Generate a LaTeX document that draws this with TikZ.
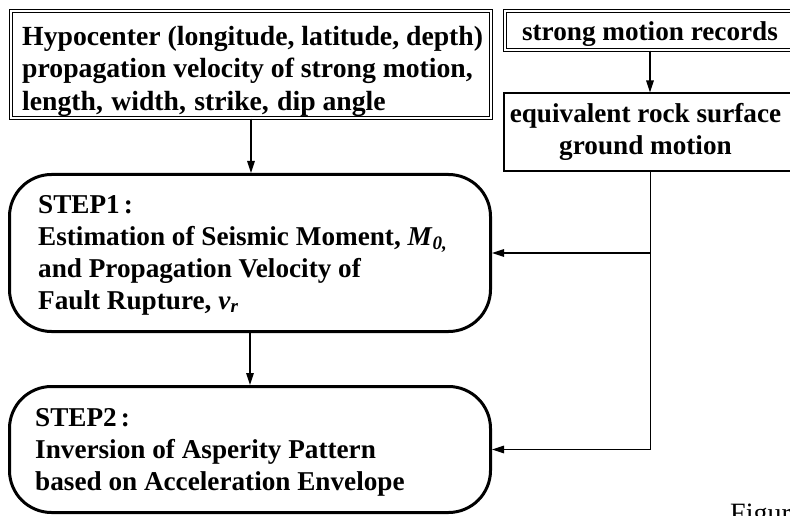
\documentclass[tikz,border=0pt]{standalone}
\usepackage{fontspec}
\setmainfont{Liberation Serif}
\usetikzlibrary{arrows.meta}
\begin{document}
\begin{tikzpicture}[x=1pt,y=-1pt,
  txt/.style={font=\fontsize{27.2}{32}\selectfont\bfseries, inner sep=0pt},
  bigtxt/.style={font=\fontsize{27.7}{32.5}\selectfont\bfseries, inner sep=0pt},
  dbox/.style={draw, double, line width=0.9pt, double distance=1.8pt, inner sep=0pt},
  sbox/.style={draw, line width=1.1pt, inner sep=0pt},
  stepbox/.style={draw, line width=3pt, rounded corners=42pt, inner sep=0pt},
  conn/.style={line width=1.5pt, -{Triangle[length=12pt,width=7.5pt]}}]
\useasboundingbox (0,0) rectangle (790,516);
% frames
\node[dbox, minimum width=480.4pt, minimum height=107.4pt] (tlbox) at (251,64.5) {};
\node[dbox, minimum width=290.4pt, minimum height=39.4pt] (strong) at (650,30.5) {};
\node[sbox, minimum width=293pt, minimum height=78pt] (equiv) at (650.5,132) {};
\node[stepbox, minimum width=481pt, minimum height=157pt] (step1) at (250,253) {};
\node[stepbox, minimum width=481pt, minimum height=126pt] (step2) at (250,449.5) {};
% texts
\node[bigtxt, anchor=north west, align=left] (tltext) at (22,26)
  {Hypocenter (longitude, latitude, depth)\\
   propagation velocity of strong motion,\\
   length,\hspace{0.3em}width,\hspace{0.3em}strike,\hspace{0.3em}dip angle};
\node[txt, anchor=north] (strongtext) at (650,21.5) {strong motion records};
\node[txt, anchor=north, align=center] (equivtext) at (645.5,103.5)
  {equivalent rock surface\\ ground motion};
\node[txt, anchor=north west, align=left] (s1text) at (38,195)
  {STEP1\hspace{4pt}:\\
   Estimation of Seismic Moment, \textit{M}\textsubscript{\textit{0,}}\\
   and Propagation Velocity of\\
   Fault Rupture, \textit{v}\textsubscript{\textit{r}}};
\node[txt, anchor=north west, align=left] (s2text) at (35,408)
  {STEP2\hspace{4pt}:\\
   Inversion of Asperity Pattern\\
   based on Acceleration Envelope};
\node[font=\fontsize{28}{32}\selectfont, anchor=base west, inner sep=0pt] (fig) at (730,522) {Figure};
% connectors
\coordinate (j1) at (equiv.south |- step1.east);
\draw[conn] (tlbox.south) -- (tlbox.south |- step1.north);
\draw[conn] (step1.south) -- (step2.north);
\draw[conn] (strong.south) -- (strong.south |- equiv.north);
\draw[conn] (equiv.south) |- (step2.east);
\draw[conn] (j1) -- (step1.east);
\end{tikzpicture}
\end{document}
